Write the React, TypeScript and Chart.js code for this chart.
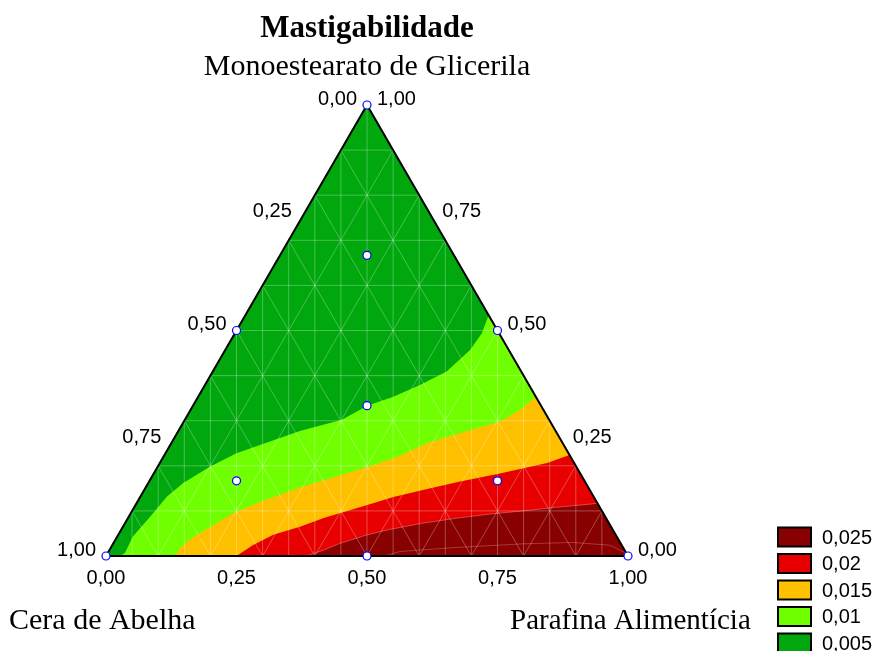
import React, { useEffect, useRef } from "react";
import { Chart, registerables } from "chart.js";

Chart.register(...registerables);

// ---------- texts ----------
const chartTitle = "Mastigabilidade";
const topAxisName = "Monoestearato de Glicerila";
const leftAxisName = "Cera de Abelha";
const rightAxisName = "Parafina Alimentícia";

// ---------- ticks ----------
const tickValues = [0, 0.25, 0.5, 0.75, 1];
const tickLabels = ["0,00", "0,25", "0,50", "0,75", "1,00"];

// ternary grid (lines parallel to each side) and vertical mesh columns
const gridSteps = [0.1, 0.2, 0.3, 0.4, 0.5, 0.6, 0.7, 0.8, 0.9];
const meshColumns = [
  0.05, 0.1, 0.15, 0.2, 0.25, 0.3, 0.35, 0.4, 0.45, 0.5,
  0.55, 0.6, 0.65, 0.7, 0.75, 0.8, 0.85, 0.9, 0.95,
];

// ---------- contour boundaries: [Parafina, Monoestearato] ----------
const boundary005: number[][] = [
  [0.027, 0], [0.033, 0.007], [0.030, 0.043], [0.041, 0.087], [0.051, 0.132],
  [0.067, 0.162], [0.100, 0.198], [0.136, 0.228], [0.172, 0.246], [0.233, 0.277],
  [0.301, 0.302], [0.334, 0.333], [0.374, 0.353], [0.412, 0.379], [0.448, 0.409],
  [0.469, 0.457], [0.473, 0.494], [0.466, 0.534],
];
const boundary010: number[][] = [
  [0.132, 0], [0.133, 0.018], [0.146, 0.042], [0.167, 0.064], [0.196, 0.095],
  [0.235, 0.120], [0.296, 0.152], [0.348, 0.174], [0.401, 0.197], [0.452, 0.222],
  [0.489, 0.250], [0.542, 0.272], [0.606, 0.298], [0.631, 0.324], [0.647, 0.353],
];
const boundary015: number[][] = [
  [0.250, 0], [0.269, 0.024], [0.297, 0.047], [0.339, 0.065], [0.375, 0.084],
  [0.444, 0.113], [0.485, 0.131], [0.543, 0.149], [0.596, 0.165], [0.663, 0.183],
  [0.742, 0.206], [0.776, 0.224],
];
const boundary020: number[][] = [
  [0.384, 0], [0.410, 0.013], [0.434, 0.028], [0.477, 0.047], [0.514, 0.059],
  [0.572, 0.073], [0.630, 0.084], [0.689, 0.093], [0.749, 0.100], [0.809, 0.108],
  [0.870, 0.115], [0.883, 0.117],
];
const boundary025: number[][] = [
  [0.534, 0], [0.558, 0.010], [0.662, 0.019], [0.786, 0.027], [0.880, 0.030],
  [0.953, 0.024], [0.994, 0.006],
];

// ---------- legend ----------
const legendLabels = ["0,025", "0,02", "0,015", "0,01", "0,005"];
const levelColors = ["#880000", "#e80000", "#ffc000", "#70ff00", "#00a80e"];

// ---------- design points: [Parafina, Monoestearato] ----------
const designPoints: number[][] = [
  [0, 0], [1, 0], [0, 1], [0, 0.5], [0.5, 0.5], [0.5, 0],
  [1 / 3, 1 / 3], [1 / 6, 2 / 3], [1 / 6, 1 / 6], [2 / 3, 1 / 6],
];

const toXY = (pm: number[]) => ({ x: pm[0] + pm[1] / 2, y: pm[1] });
const regionData = (b: number[][]) => [...b.map(toXY), { x: 1, y: 0 }];

function buildDatasets() {
  const ds: any[] = [];
  const darkGreen = levelColors[4];
  ds.push({
    data: [{ x: 0, y: 0 }, { x: 0.5, y: 1 }, { x: 1, y: 0 }],
    fill: "origin",
    backgroundColor: darkGreen,
    borderWidth: 0,
    pointRadius: 0,
    order: 100,
  });
  const regions = [
    { b: boundary005, c: levelColors[3], border: 0, bc: "transparent" },
    { b: boundary010, c: levelColors[2], border: 0, bc: "transparent" },
    { b: boundary015, c: levelColors[1], border: 0, bc: "transparent" },
    { b: boundary020, c: levelColors[0], border: 1, bc: "rgba(255,150,150,0.45)" },
    { b: boundary025, c: levelColors[0], border: 1, bc: "rgba(255,150,150,0.35)" },
  ];
  regions.forEach((r, i) => {
    ds.push({
      data: regionData(r.b),
      fill: "origin",
      backgroundColor: r.c,
      borderColor: r.bc,
      borderWidth: r.border,
      pointRadius: 0,
      tension: 0,
      order: 90 - i,
    });
  });
  const gridColor = "rgba(255,255,255,0.28)";
  const gridLine = (pts: { x: number; y: number }[]) => ({
    data: pts,
    fill: false,
    borderColor: gridColor,
    borderWidth: 1,
    pointRadius: 0,
    order: 50,
  });
  gridSteps.forEach((t) => {
    // constant Monoestearato
    ds.push(gridLine([{ x: t / 2, y: t }, { x: 1 - t / 2, y: t }]));
    // constant Parafina
    ds.push(gridLine([{ x: t, y: 0 }, { x: (1 + t) / 2, y: 1 - t }]));
    // constant Cera
    ds.push(gridLine([{ x: 1 - t, y: 0 }, { x: (1 - t) / 2, y: 1 - t }]));
  });
  meshColumns.forEach((c) => {
    const top = c <= 0.5 ? 2 * c : 2 * (1 - c);
    ds.push(gridLine([{ x: c, y: 0 }, { x: c, y: top }]));
  });
  // outline
  ds.push({
    data: [{ x: 0, y: 0 }, { x: 0.5, y: 1 }, { x: 1, y: 0 }, { x: 0, y: 0 }],
    fill: false,
    borderColor: "#000",
    borderWidth: 2,
    borderJoinStyle: "miter",
    pointRadius: 0,
    clip: false,
    order: 20,
  });
  // design points
  ds.push({
    data: designPoints.map(toXY),
    showLine: false,
    pointRadius: 4,
    pointBorderColor: "#0000ff",
    pointBackgroundColor: "#ffffff",
    pointBorderWidth: 1.2,
    clip: false,
    order: 10,
  });
  return ds;
}

const textPlugin = {
  id: "ternaryText",
  afterDraw(chart: any) {
    const { ctx } = chart;
    const xs = chart.scales.x;
    const ys = chart.scales.y;
    const px = (p: number, m: number) => [xs.getPixelForValue(p + m / 2), ys.getPixelForValue(m)];
    ctx.save();
    ctx.fillStyle = "#000";
    const apex = px(0, 1);
    ctx.textAlign = "center";
    ctx.textBaseline = "alphabetic";
    ctx.font = 'bold 31px "Liberation Serif", serif';
    ctx.fillText(chartTitle, apex[0], 37);
    ctx.font = '30px "Liberation Serif", serif';
    ctx.fillText(topAxisName, apex[0], 75);
    ctx.textAlign = "left";
    ctx.fillText(leftAxisName, 9, 629);
    ctx.font = '29px "Liberation Serif", serif';
    ctx.fillText(rightAxisName, 510, 629);

    ctx.font = '20px "Liberation Sans", Arial, sans-serif';
    ctx.textBaseline = "middle";
    tickValues.forEach((v, i) => {
      const l = px(0, 1 - v);
      ctx.textAlign = "right";
      ctx.fillText(tickLabels[i], l[0] - 10, l[1] - 6);
      const r = px(1 - v, v);
      ctx.textAlign = "left";
      ctx.fillText(tickLabels[i], r[0] + 10, r[1] - 6);
      const b = px(v, 0);
      ctx.textAlign = "center";
      ctx.fillText(tickLabels[i], b[0], b[1] + 22);
    });

    // legend
    legendLabels.forEach((lab, i) => {
      const top = 527.5 + i * 26.5;
      ctx.fillStyle = levelColors[i];
      ctx.fillRect(778, top, 33, 19);
      ctx.strokeStyle = "#000";
      ctx.lineWidth = 2;
      ctx.strokeRect(778, top, 33, 19);
      ctx.fillStyle = "#000";
      ctx.textAlign = "left";
      ctx.fillText(lab, 822, top + 10.5);
    });
    ctx.restore();
  },
};

export default function App() {
  const ref = useRef<HTMLCanvasElement>(null);
  useEffect(() => {
    const canvas = ref.current;
    if (!canvas) return;
    const chart = new Chart(canvas, {
      type: "line",
      data: { datasets: buildDatasets() },
      options: {
        animation: false,
        responsive: false,
        devicePixelRatio: 1,
        layout: { padding: { left: 106, top: 105, right: 248, bottom: 95 } },
        scales: {
          x: { type: "linear", min: 0, max: 1, display: false },
          y: { type: "linear", min: 0, max: 1, display: false },
        },
        plugins: {
          legend: { display: false },
          tooltip: { enabled: false },
          title: { display: false },
        },
        events: [],
      },
      plugins: [textPlugin],
    } as any);
    return () => chart.destroy();
  }, []);
  return (
    <div style={{ position: "fixed", left: 0, top: 0, width: 876, height: 651, background: "#fff" }}>
      <canvas ref={ref} width={876} height={651} style={{ display: "block", width: 876, height: 651 }} />
    </div>
  );
}
